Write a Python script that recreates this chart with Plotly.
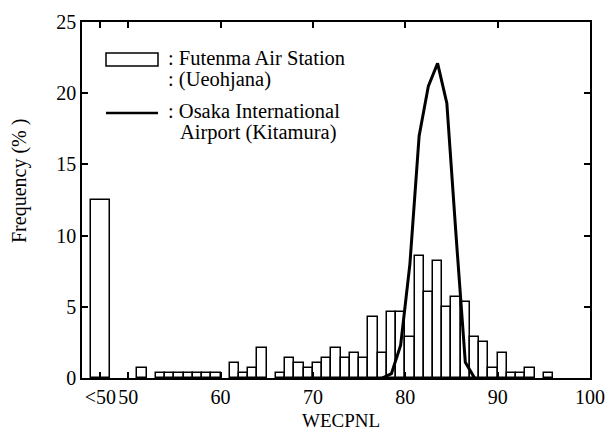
import plotly.graph_objects as go

# ---- data ----
# Futenma Air Station (Ueohjana): histogram of WECPNL, 1-dB bins (centre = bin + 0.5); "<50" bin drawn wider
fut_x = [47, 51.5, 53.5, 54.5, 55.5, 56.5, 57.5, 58.5, 59.5, 61.5, 62.5, 63.5, 64.5,
         66.5, 67.5, 68.5, 69.5, 70.5, 71.5, 72.5, 73.5, 74.5, 75.5, 76.5, 77.5,
         78.5, 79.5, 80.5, 81.5, 82.5, 83.5, 84.5, 85.5, 86.5, 87.5, 88.5, 89.5,
         90.5, 91.5, 92.5, 93.5, 95.5]
fut_w = [2] + [1] * 41
fut_y = [12.5, 0.71, 0.36, 0.36, 0.36, 0.36, 0.36, 0.36, 0.36, 1.07, 0.36, 0.71, 2.14,
         0.36, 1.43, 1.07, 0.71, 1.07, 1.43, 2.14, 1.43, 1.79, 1.43, 4.29, 1.79,
         4.64, 4.64, 2.86, 8.57, 6.07, 8.21, 5.0, 5.71, 5.36, 2.86, 2.5, 0.71,
         1.79, 0.36, 0.36, 0.71, 0.36]

# Osaka International Airport (Kitamura)
osa_x = [77.5, 78.5, 79.5, 80.5, 81.5, 82.5, 83.5, 84.5, 85.5, 86.5, 87.5]
osa_y = [0, 0.3, 2.3, 8.0, 17.0, 20.5, 22.1, 19.3, 10.0, 1.1, 0]

x_tickvals = [47, 50, 60, 70, 80, 90, 100]
x_ticktext = ["<50", "50", "60", "70", "80", "90", "100"]
y_tickvals = [0, 5, 10, 15, 20, 25]

FONT = "Liberation Serif"
W, H = 611, 436
ML, MR, MT, MB = 82, 21, 22, 58
PW, PH = W - ML - MR, H - MT - MB


def px(x):
    return (x - ML) / PW


def py(y):
    return (H - MB - y) / PH


fig = go.Figure()
fig.add_trace(go.Bar(x=fut_x, y=fut_y, width=fut_w,
                     marker=dict(color="white", line=dict(color="black", width=1.5)),
                     name="Futenma Air Station (Ueohjana)", showlegend=False))
fig.add_trace(go.Scatter(x=osa_x, y=osa_y, mode="lines",
                         line=dict(color="black", width=3),
                         name="Osaka International Airport (Kitamura)", showlegend=False))

axis_common = dict(showline=True, linecolor="black", linewidth=1.5, mirror="ticks",
                   ticks="inside", ticklen=6, tickwidth=1.5, tickcolor="black",
                   showgrid=False, zeroline=False, automargin=False,
                   tickfont=dict(family=FONT, size=20, color="black"))
fig.update_xaxes(range=[45, 100], tickvals=x_tickvals, ticktext=x_ticktext, **axis_common)
fig.update_yaxes(range=[0, 25], tickvals=y_tickvals, **axis_common)

# manual legend
shapes = [
    dict(type="rect", xref="paper", yref="paper", x0=px(106), x1=px(158), y0=py(66), y1=py(53),
         line=dict(color="black", width=1.5), fillcolor="white"),
    dict(type="line", xref="paper", yref="paper", x0=px(106), x1=px(158), y0=py(113), y1=py(113),
         line=dict(color="black", width=2.5)),
]
leg_font = dict(family=FONT, size=20.5, color="black")
ann = []
for txt, x, y in [(": Futenma Air Station", 167, 58),
                  (": (Ueohjana)", 167, 79.5),
                  (": Osaka International", 167, 111),
                  ("Airport (Kitamura)", 179, 132.5)]:
    ann.append(dict(text=txt, x=px(x), y=py(y), xref="paper", yref="paper",
                    xanchor="left", yanchor="middle", showarrow=False, font=leg_font,
                    borderpad=0))
# axis titles
ann.append(dict(text="WECPNL", x=px(341), y=py(420), xref="paper", yref="paper",
                xanchor="center", yanchor="middle", showarrow=False,
                font=dict(family=FONT, size=19, color="black")))
ann.append(dict(text="Frequency (% )", x=px(19), y=py(181), xref="paper", yref="paper",
                xanchor="center", yanchor="middle", showarrow=False, textangle=-90,
                font=dict(family=FONT, size=20, color="black")))

fig.update_layout(width=W, height=H, margin=dict(l=ML, r=MR, t=MT, b=MB, autoexpand=False),
                  plot_bgcolor="white", paper_bgcolor="white", bargap=0,
                  showlegend=False, shapes=shapes, annotations=ann)

fig.write_html("out.html")
